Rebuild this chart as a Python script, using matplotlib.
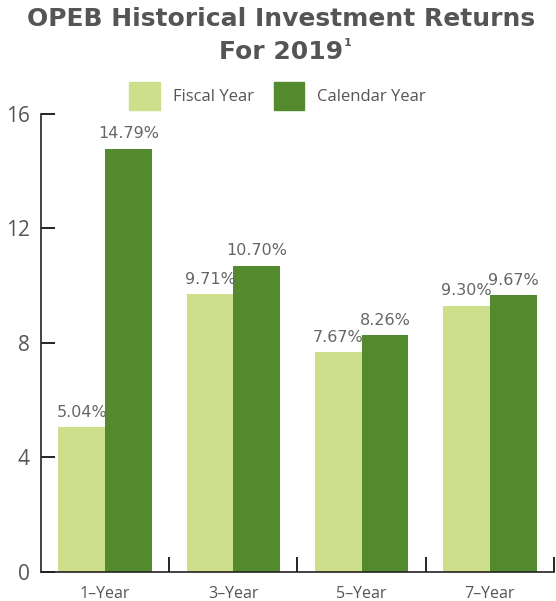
import numpy as np
import matplotlib
matplotlib.use("Agg")
from matplotlib import pyplot as plt
from matplotlib.patches import Patch

categories = ["1\u2013Year", "3\u2013Year", "5\u2013Year", "7\u2013Year"]
fiscal = [5.04, 9.71, 7.67, 9.30]
calendar = [14.79, 10.70, 8.26, 9.67]
series_names = ["Fiscal Year", "Calendar Year"]
yticks = [0, 4, 8, 12, 16]

light = "#CDDF8B"
dark = "#538A2E"
grey = "#555555"

plt.rcParams['font.family'] = ['Open Sans', 'DejaVu Sans']

fig = plt.figure(figsize=(5.56, 6.01), dpi=100)
ax = fig.add_axes([0.0737, 0.0488, 0.9227, 0.7616])

x = np.arange(len(categories))
w = 0.365
ax.bar(x - w/2, fiscal, w, color=light)
ax.bar(x + w/2, calendar, w, color=dark)

for xi, v in zip(x - w/2, fiscal):
    ax.text(xi, v + 0.25, "%.2f%%" % v, ha='center', va='bottom', fontsize=11.5,
            color="#666666", family='DejaVu Sans')
for xi, v in zip(x + w/2, calendar):
    ax.text(xi, v + 0.25, "%.2f%%" % v, ha='center', va='bottom', fontsize=11.5,
            color="#666666", family='DejaVu Sans')

ax.set_xlim(-0.5, 3.5)
ax.set_ylim(0, 16)
ax.set_yticks(yticks)
ax.set_yticklabels([str(t) for t in yticks], fontsize=15, color=grey)
ax.tick_params(axis='y', direction='in', length=10, width=1.2, pad=8)

# category labels without ticks, separator ticks between groups
ax.set_xticks(x)
ax.set_xticklabels(categories, fontsize=11.5, color=grey)
ax.tick_params(axis='x', length=0, pad=10)
ax.set_xticks([0.5, 1.5, 2.5, 3.5], minor=True)
ax.tick_params(axis='x', which='minor', direction='in', length=11, width=1.2)

for s in ['top', 'right']:
    ax.spines[s].set_visible(False)
for s in ['left', 'bottom']:
    ax.spines[s].set_linewidth(1.2)
    ax.spines[s].set_color("#222222")

handles = [Patch(color=light), Patch(color=dark)]
fig.legend(handles, series_names, loc='center', bbox_to_anchor=(0.499, 0.841), ncol=2,
           frameon=False, fontsize=12, labelcolor=grey, handlelength=1.85, handleheight=2.2,
           columnspacing=1.2, handletextpad=0.75)

fig.text(0.505, 0.968, "OPEB Historical Investment Returns", ha='center', va='center',
         fontsize=18, fontweight='bold', color=grey, family='DejaVu Sans')
t2 = fig.text(0.505, 0.914, "For 2019", ha='center', va='center',
              fontsize=18, fontweight='bold', color=grey, family='DejaVu Sans')
ax.annotate("1", xy=(1, 0.85), xycoords=t2, xytext=(0.5, 0), textcoords='offset points',
            ha='left', va='center', fontsize=8, fontweight='bold', color=grey,
            family='DejaVu Sans', annotation_clip=False)

fig.savefig("out.png", dpi=100)
